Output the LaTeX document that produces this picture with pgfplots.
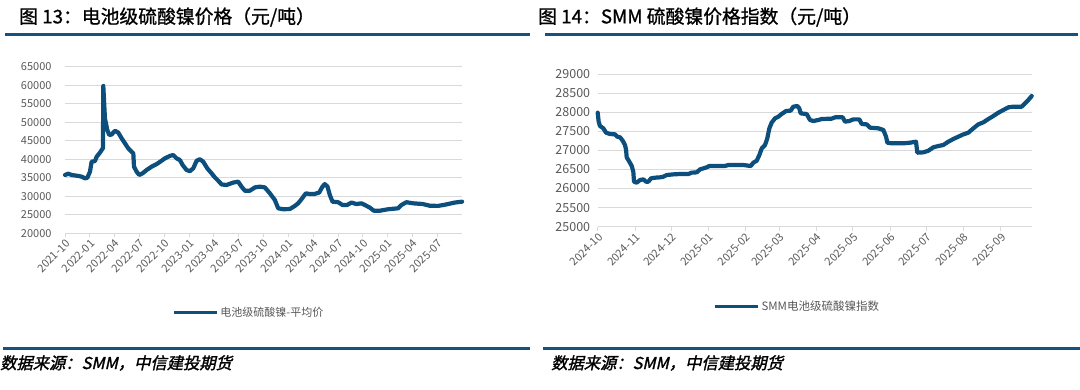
\documentclass[border=0pt]{standalone}
\usepackage{fontspec}
\setmainfont{Noto Sans CJK SC}
\newfontfamily\titlefont[FakeBold=1]{Noto Sans CJK SC}
\newfontfamily\footfont[FakeSlant=0.22,FakeBold=1.5]{Noto Sans CJK SC}
\usepackage{pgfplots}
\usepackage{pgfplotstable}
\pgfplotsset{compat=1.18}
\definecolor{lineblue}{RGB}{12,78,124}
\definecolor{ruleblue}{RGB}{22,82,128}
\definecolor{gridgray}{RGB}{217,217,217}
\definecolor{ticktext}{RGB}{89,89,89}

\pgfplotstableread{
x y
0 35750
0.40 36100
0.81 35750
1.61 35500
2.01 35300
2.42 34850
2.70 35000
3.02 36650
3.22 39350
3.62 39500
3.83 40700
4.23 41800
4.43 42500
4.59 43000
4.63 59800
4.83 51000
4.95 49700
5.11 47900
5.36 46550
5.64 46700
6.04 47700
6.44 47200
6.85 45650
7.25 44300
7.65 42950
8.05 42050
8.26 41600
8.34 38000
8.66 36650
8.98 35750
9.38 36200
9.87 37100
10.47 38000
11.08 38700
11.68 39600
12.08 40250
12.69 40900
13.09 41150
13.49 40250
13.89 39800
14.22 38450
14.70 37100
15.10 36800
15.51 37550
15.91 39600
16.31 40000
16.71 39350
17.20 37550
17.72 36200
18.12 35100
18.53 34200
18.93 33200
19.53 33050
20.34 33700
20.94 33950
21.34 32600
21.75 31500
22.35 31500
22.96 32400
23.56 32600
24.16 32400
24.77 30800
25.37 29000
25.78 26750
26.38 26500
27.18 26550
27.79 27400
28.19 28100
28.59 29200
29.12 30800
29.60 30600
30.12 30600
30.73 31000
31.13 32600
31.41 33300
31.74 32600
32.02 30350
32.34 28550
33.02 28400
33.55 27650
34.11 27650
34.64 28300
35.24 27900
35.84 28100
36.25 27650
36.85 26950
37.33 26100
38.06 26100
39.07 26500
40.27 26750
40.68 27650
41.28 28400
42.09 28100
43.29 27900
44.10 27450
45.11 27400
46.11 27800
47.12 28300
48.01 28550
}\leftdata

\pgfplotstableread{
x y
0 27987
0.8 27751
1.9 27638
4.7 27577
6.9 27463
10.3 27428
14.4 27419
16.3 27358
18.6 27341
20.8 27253
22.7 27140
23.6 27009
24.1 26817
26.3 26703
28.3 26590
29.6 26441
30.2 26179
32.4 26153
35.2 26223
38.0 26240
40.2 26179
42.1 26179
44.3 26266
47.7 26284
51.8 26293
54.6 26310
57.4 26354
62.9 26371
68.4 26380
75.4 26380
78.1 26415
82.3 26424
85.1 26502
87.8 26528
90.6 26555
92.8 26590
105.8 26590
108.6 26616
121.1 26616
127.2 26590
129.4 26677
132.2 26729
134.4 26878
136.4 27053
139.1 27140
141.0 27315
142.7 27577
144.6 27725
147.4 27839
150.2 27882
152.9 27952
156.6 28031
160.4 28040
162.6 28144
166.0 28162
167.6 28101
168.7 27970
171.0 27960
173.7 27952
176.5 27795
179.3 27769
183.4 27795
186.2 27821
194.5 27830
197.3 27865
203.7 27865
205.6 27751
209.2 27769
212.5 27812
217.5 27812
219.5 27690
223.6 27681
226.4 27594
233.3 27577
237.5 27533
239.7 27358
240.8 27201
244.4 27184
254.1 27184
259.6 27201
264.6 27227
265.7 26939
270.7 26948
274.9 26991
279.0 27079
283.2 27114
287.3 27140
291.5 27227
295.6 27297
299.8 27358
304.0 27419
308.1 27463
312.3 27577
316.4 27681
320.6 27734
324.8 27821
328.9 27900
333.1 27987
337.2 28057
341.4 28127
345.5 28144
352.5 28144
355.2 28232
358.0 28319
360.8 28424
}\rightdata

\pgfplotsset{mystyle/.style={
  scale only axis, clip=false,
  axis x line*=bottom, axis y line*=left,
  x axis line style={draw=gridgray, line width=1pt, -},
  y axis line style={draw=none},
  ymajorgrids, grid style={gridgray, line width=1pt},
  ytick style={draw=none},
  xtick style={draw=gridgray, line width=0.8pt},
  major tick length=4pt, tick align=outside, xtick pos=left,
  xticklabel style={rotate=45, anchor=north east, font=\fontsize{11}{12}\selectfont, text=ticktext, inner sep=1pt},
  /pgf/number format/assume math mode=true,
  /pgf/number format/1000 sep={},
  scaled y ticks=false,
  legend cell align=left,
  legend image code/.code={\draw[#1, line width=3.3pt, line cap=butt] (0pt,0pt) -- (43pt,0pt);},
}}

\begin{document}
\begin{tikzpicture}[x=1pt,y=1pt]
\path[use as bounding box] (0pt,0pt) rectangle (1080pt,389pt);

% titles
\node[anchor=west, inner sep=0pt] at (19pt,372pt) {\titlefont\fontsize{18.8}{19}\selectfont 图 13：电池级硫酸镍价格（元/吨）};
\node[anchor=west, inner sep=0pt] at (538pt,372pt) {\titlefont\fontsize{18.8}{19}\selectfont 图 14：SMM 硫酸镍价格指数（元/吨）};
% rules
\draw[ruleblue, line width=3pt] (5pt,354.5pt) -- (530pt,354.5pt);
\draw[ruleblue, line width=3pt] (545pt,354.5pt) -- (1078pt,354.5pt);
\draw[ruleblue, line width=3pt] (3pt,41pt) -- (530pt,41pt);
\draw[ruleblue, line width=3pt] (543pt,41pt) -- (1080pt,41pt);
% footers
\node[anchor=west, inner sep=0pt] at (0pt,26pt) {\footfont\fontsize{16.3}{17}\selectfont 数据来源：SMM，中信建投期货};
\node[anchor=west, inner sep=0pt] at (551pt,26pt) {\footfont\fontsize{16.3}{17}\selectfont 数据来源：SMM，中信建投期货};

\begin{axis}[mystyle,
  at={(65pt,155.7pt)}, anchor=south west,
  width=397pt, height=166.6pt,
  xmin=0, xmax=48, ymin=20000, ymax=65000,
  xtick={0,3,...,45},
  xticklabels={2021-10,2022-01,2022-04,2022-07,2022-10,2023-01,2023-04,2023-07,2023-10,2024-01,2024-04,2024-07,2024-10,2025-01,2025-04,2025-07},
  ytick={20000,25000,...,65000},
  yticklabel style={font=\fontsize{11}{12}\selectfont, text=ticktext, xshift=-6pt},
  legend style={at={(axis description cs:0.2695,-0.477)}, anchor=west, draw=none, fill=none, font=\fontsize{11}{12}\selectfont, text=ticktext, inner sep=0pt},
]
\addplot[lineblue, line width=4.2pt, line join=round, line cap=round] table[x=x,y=y] {\leftdata};
\addlegendentry{电池级硫酸镍-平均价}
\end{axis}

\begin{axis}[mystyle,
  at={(597.7pt,162.3pt)}, anchor=south west,
  width=434pt, height=152.7pt,
  xmin=0, xmax=360.8, ymin=25000, ymax=29000,
  xtick={0,31,61,92,123,151,182,212,243,273,304,335},
  xticklabels={2024-10,2024-11,2024-12,2025-01,2025-02,2025-03,2025-04,2025-05,2025-06,2025-07,2025-08,2025-09},
  ytick={25000,25500,...,29000},
  yticklabel style={font=\fontsize{12.5}{13}\selectfont, text=ticktext, xshift=0pt},
  legend style={at={(axis description cs:0.2657,-0.524)}, anchor=west, draw=none, fill=none, font=\fontsize{11.5}{12}\selectfont, text=ticktext, inner sep=0pt},
]
\addplot[lineblue, line width=4.2pt, line join=round, line cap=round] table[x=x,y=y] {\rightdata};
\addlegendentry{SMM电池级硫酸镍指数}
\end{axis}
\end{tikzpicture}
\end{document}
